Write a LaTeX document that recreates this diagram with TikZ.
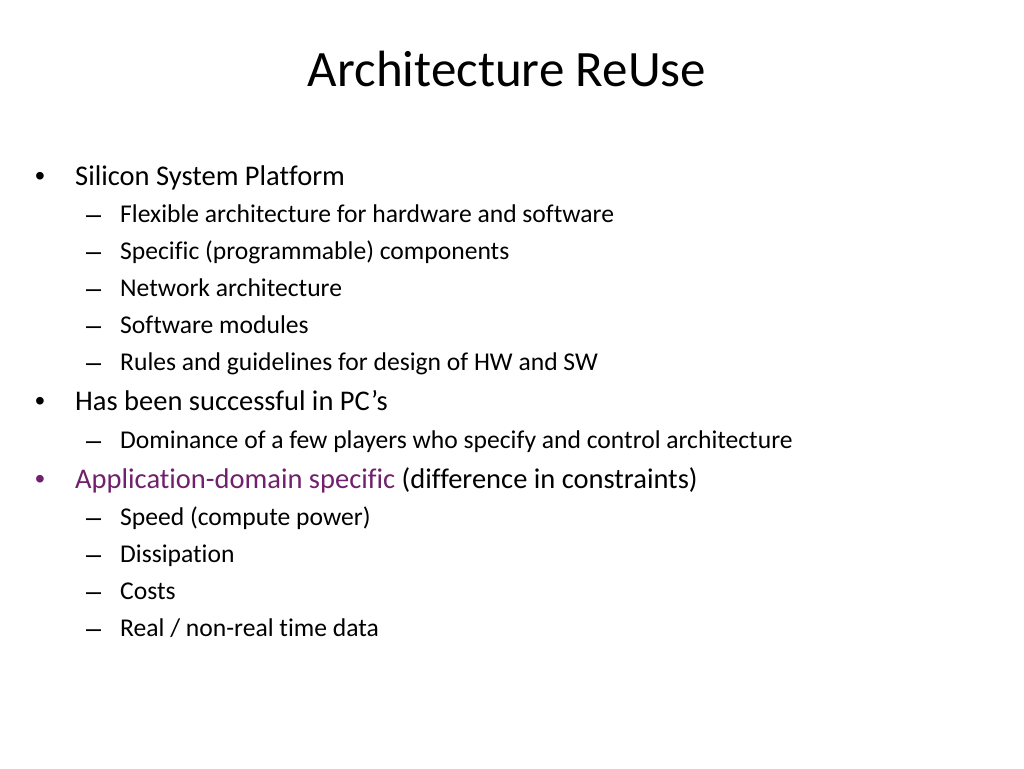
\documentclass[tikz,border=0pt]{standalone}
\usepackage{fontspec}
\setmainfont{Carlito}[Ligatures=NoCommon]
\newfontfamily\arialf{Liberation Sans}
\definecolor{accent}{RGB}{112,32,108}
\begin{document}
\begin{tikzpicture}[x=1pt,y=-1pt,
  title/.style={anchor=base, inner sep=0pt, font=\fontsize{51}{60}\selectfont},
  lone/.style={anchor=base west, inner sep=0pt, font=\fontsize{28.5}{32}\selectfont},
  ltwo/.style={anchor=base west, inner sep=0pt, font=\fontsize{25.6}{28}\selectfont},
  bul/.style={anchor=base west, inner sep=0pt, font=\arialf\fontsize{28}{32}\selectfont},
  dsh/.style={anchor=base west, inner sep=0pt, font=\arialf\fontsize{27}{28}\selectfont}]
\useasboundingbox (0,0) rectangle (1024,768);
\node[title] (t) at (507,86) {Architecture ReUse};
% level 1 / level 2 items
\node[bul] (b1) at (35,185) {•};
\node[lone] (l1) at (75,185) {Silicon System Platform};
\node[dsh] (d11) at (86,223) {–};
\node[ltwo] (s11) at (120,222) {Flexible architecture for hardware and software};
\node[dsh] (d12) at (86,260) {–};
\node[ltwo] (s12) at (120,259) {Specific (programmable) components};
\node[dsh] (d13) at (86,297) {–};
\node[ltwo] (s13) at (120,296) {Network architecture};
\node[dsh] (d14) at (86,334) {–};
\node[ltwo] (s14) at (120,333) {Software modules};
\node[dsh] (d15) at (86,371) {–};
\node[ltwo] (s15) at (120,370) {Rules and guidelines for design of HW and SW};
\node[bul] (b2) at (35,410.5) {•};
\node[lone] (l2) at (75,410.5) {Has been successful in PC’s};
\node[dsh] (d21) at (86,449) {–};
\node[ltwo] (s21) at (120,448) {Dominance of a few players who specify and control architecture};
\node[bul,text=accent] (b3) at (35,488) {•};
\node[lone] (l3) at (75,488) {\textcolor{accent}{Application-domain specific} (difference in constraints)};
\node[dsh] (d31) at (86,526) {–};
\node[ltwo] (s31) at (120,525) {Speed (compute power)};
\node[dsh] (d32) at (86,563) {–};
\node[ltwo] (s32) at (120,562) {Dissipation};
\node[dsh] (d33) at (86,600) {–};
\node[ltwo] (s33) at (120,599) {Costs};
\node[dsh] (d34) at (86,637) {–};
\node[ltwo] (s34) at (120,636) {Real / non-real time data};
\end{tikzpicture}
\end{document}
